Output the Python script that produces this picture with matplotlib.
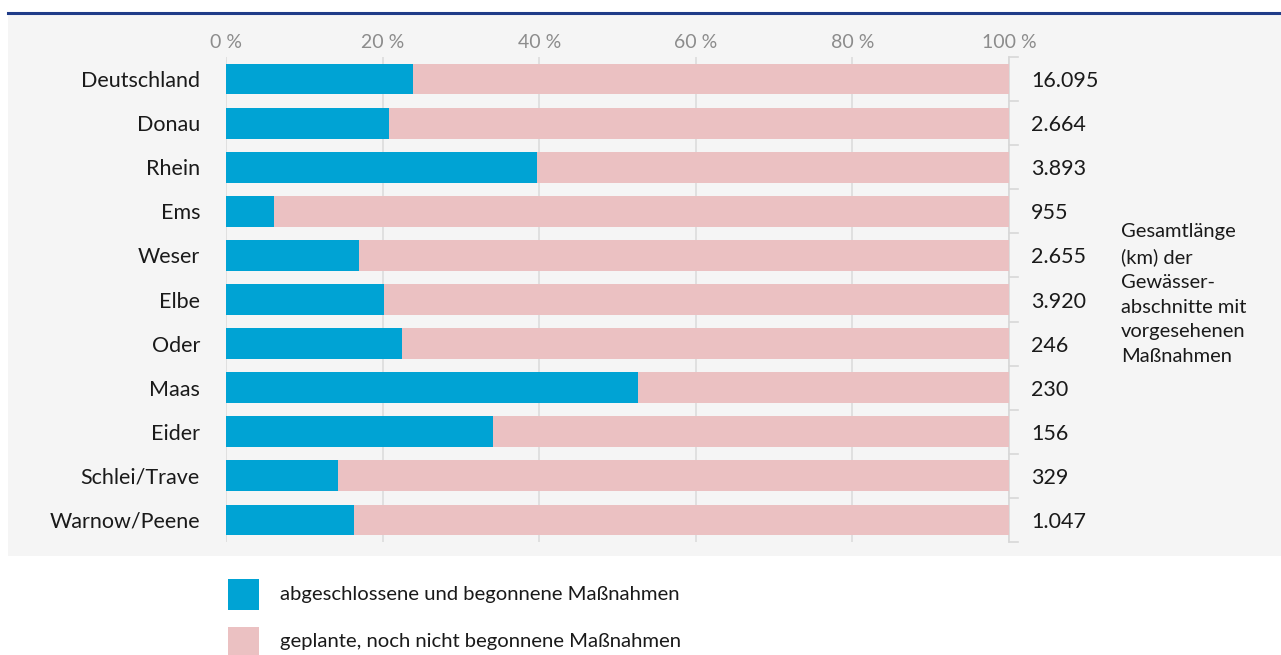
import matplotlib
matplotlib.use("Agg")
import matplotlib.pyplot as plt
from matplotlib.patches import Rectangle
from matplotlib.lines import Line2D
import numpy as np

categories = ["Deutschland", "Donau", "Rhein", "Ems", "Weser", "Elbe", "Oder",
              "Maas", "Eider", "Schlei/Trave", "Warnow/Peene"]
begonnen = [23.9, 20.8, 39.7, 6.1, 17.0, 20.2, 22.5, 52.6, 34.1, 14.3, 16.3]
geplant = [100 - v for v in begonnen]
laengen = ["16.095", "2.664", "3.893", "955", "2.655", "3.920", "246",
           "230", "156", "329", "1.047"]
x_ticks = [0, 20, 40, 60, 80, 100]
x_tick_labels = ["0 %", "20 %", "40 %", "60 %", "80 %", "100 %"]
legend_labels = ["abgeschlossene und begonnene Maßnahmen",
                 "geplante, noch nicht begonnene Maßnahmen"]
side_note = "Gesamtlänge\n(km) der\nGewässer-\nabschnitte mit\nvorgesehenen\nMaßnahmen"

BLUE = "#00A3D4"
PINK = "#EBC1C2"
BG = "#F5F5F5"
FONT = "Lato"

W, H = 1281, 655
fig = plt.figure(figsize=(W / 100, H / 100), dpi=100)
fig.patch.set_facecolor("white")

def fx(px):
    return px / W

def fy(py):
    return 1 - py / H

# grey panel and top line
fig.patches.append(Rectangle((fx(8), fy(556)), 1 - fx(8), fy(14) - fy(556),
                             transform=fig.transFigure, facecolor=BG,
                             edgecolor="none", zorder=-10))
fig.lines.append(Line2D([fx(8), 1], [fy(12.5), fy(12.5)], transform=fig.transFigure,
                        color="#1F3C88", linewidth=2.2, zorder=-9))

ax = fig.add_axes([fx(226), fy(542), fx(1009) - fx(226), fy(57) - fy(542)])
ax.set_facecolor("none")
y = np.arange(len(categories))
ax.barh(y, begonnen, height=0.70, color=BLUE, zorder=3)
ax.barh(y, geplant, left=begonnen, height=0.70, color=PINK, zorder=3)
ax.set_xlim(0, 100)
ax.set_ylim(len(categories) - 0.5, -0.5)

ax.xaxis.tick_top()
ax.set_xticks(x_ticks)
ax.set_xticklabels(x_tick_labels, fontsize=14, color="#8C8C8C", family=FONT)
ax.tick_params(axis="x", length=0, pad=4)
ax.grid(axis="x", color="#DCDCDC", linewidth=1.2, zorder=0)
ax.set_axisbelow(True)

ax.set_yticks(y)
ax.set_yticklabels(categories, fontsize=15.5, color="#1a1a1a", family=FONT,
                   va="center_baseline")
ax.tick_params(axis="y", length=0, pad=18.7)

for s in ["top", "bottom", "left"]:
    ax.spines[s].set_visible(False)
ax.spines["right"].set_color("#D8D8D8")
ax.spines["right"].set_linewidth(1.2)

# right-hand boundary ticks
for b in np.arange(-0.5, len(categories), 1.0):
    ax.plot([100, 101.2], [b, b], color="#D8D8D8", linewidth=1.2,
            clip_on=False, zorder=2)

for yi, val in zip(y, laengen):
    ax.text(102.8, yi, val, va="center_baseline", ha="left", fontsize=15.5,
            color="#1a1a1a", family=FONT)

fig.text(fx(1121), fy(294), side_note, ha="left", va="center", fontsize=14.5,
         color="#1a1a1a", family=FONT, linespacing=1.55)

# legend
for i, (lab, col) in enumerate(zip(legend_labels, [BLUE, PINK])):
    top = 579 + i * 47.5
    fig.patches.append(Rectangle((fx(228), fy(top + 31)), fx(31), fy(top) - fy(top + 31),
                                 transform=fig.transFigure, facecolor=col,
                                 edgecolor="none"))
    fig.text(fx(280), fy(top + 15.5), lab, ha="left", va="center", fontsize=14.6,
             color="#1a1a1a", family=FONT)

fig.savefig("out.png", dpi=100)
